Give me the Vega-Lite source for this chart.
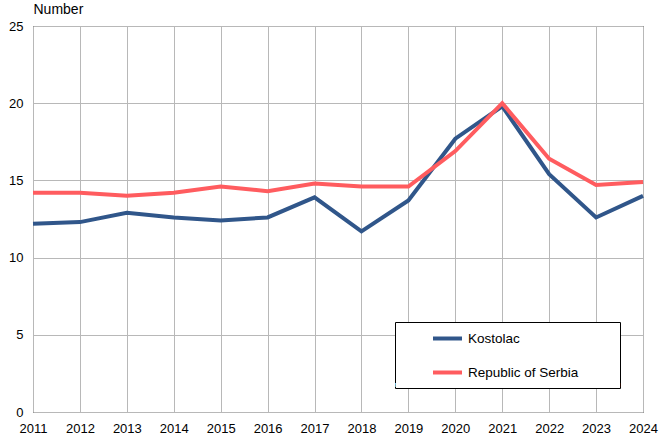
{
  "$schema": "https://vega.github.io/schema/vega-lite/v6.json",
  "width": 610,
  "height": 386,
  "autosize": {"type": "none"},
  "padding": {"left": 33, "top": 26, "right": 16, "bottom": 23},
  "background": "white",
  "config": {
    "font": "Liberation Sans",
    "view": {"stroke": "#000000", "strokeWidth": 1}
  },
  "data": {
    "values": [
      {"year": 2011, "series": "Kostolac", "value": 12.2},
      {"year": 2012, "series": "Kostolac", "value": 12.3},
      {"year": 2013, "series": "Kostolac", "value": 12.9},
      {"year": 2014, "series": "Kostolac", "value": 12.6},
      {"year": 2015, "series": "Kostolac", "value": 12.4},
      {"year": 2016, "series": "Kostolac", "value": 12.6},
      {"year": 2017, "series": "Kostolac", "value": 13.9},
      {"year": 2018, "series": "Kostolac", "value": 11.7},
      {"year": 2019, "series": "Kostolac", "value": 13.7},
      {"year": 2020, "series": "Kostolac", "value": 17.7},
      {"year": 2021, "series": "Kostolac", "value": 19.8},
      {"year": 2022, "series": "Kostolac", "value": 15.4},
      {"year": 2023, "series": "Kostolac", "value": 12.6},
      {"year": 2024, "series": "Kostolac", "value": 14.0},
      {"year": 2011, "series": "Republic of Serbia", "value": 14.2},
      {"year": 2012, "series": "Republic of Serbia", "value": 14.2},
      {"year": 2013, "series": "Republic of Serbia", "value": 14.0},
      {"year": 2014, "series": "Republic of Serbia", "value": 14.2},
      {"year": 2015, "series": "Republic of Serbia", "value": 14.6},
      {"year": 2016, "series": "Republic of Serbia", "value": 14.3},
      {"year": 2017, "series": "Republic of Serbia", "value": 14.8},
      {"year": 2018, "series": "Republic of Serbia", "value": 14.6},
      {"year": 2019, "series": "Republic of Serbia", "value": 14.6},
      {"year": 2020, "series": "Republic of Serbia", "value": 16.9},
      {"year": 2021, "series": "Republic of Serbia", "value": 20.0},
      {"year": 2022, "series": "Republic of Serbia", "value": 16.4},
      {"year": 2023, "series": "Republic of Serbia", "value": 14.7},
      {"year": 2024, "series": "Republic of Serbia", "value": 14.9}
    ]
  },
  "mark": {"type": "line", "strokeWidth": 4, "strokeJoin": "miter", "strokeCap": "butt"},
  "encoding": {
    "x": {
      "field": "year",
      "type": "quantitative",
      "scale": {"domain": [2011, 2024], "nice": false, "zero": false},
      "axis": {
        "values": [2011, 2012, 2013, 2014, 2015, 2016, 2017, 2018, 2019, 2020, 2021, 2022, 2023, 2024],
        "format": "d",
        "title": null,
        "ticks": false,
        "domain": false,
        "labelPadding": 10,
        "labelFontSize": 13,
        "labelColor": "#000000",
        "labelFont": "Liberation Sans",
        "labelFlush": false,
        "labelOverlap": false,
        "grid": true,
        "gridColor": "#b8b8b8",
        "gridOpacity": 1,
        "gridWidth": 1
      }
    },
    "y": {
      "field": "value",
      "type": "quantitative",
      "scale": {"domain": [0, 25], "nice": false},
      "axis": {
        "values": [0, 5, 10, 15, 20, 25],
        "title": "Number",
        "titleAngle": 0,
        "titleAlign": "left",
        "titleBaseline": "bottom",
        "titleX": 0,
        "titleY": -10,
        "titleFontWeight": "normal",
        "titleFontSize": 14,
        "titleColor": "#000000",
        "titleFont": "Liberation Sans",
        "ticks": false,
        "domain": false,
        "labelPadding": 10,
        "labelFontSize": 13,
        "labelColor": "#000000",
        "labelFont": "Liberation Sans",
        "labelFlush": false,
        "grid": true,
        "gridColor": "#b8b8b8",
        "gridOpacity": 1,
        "gridWidth": 1
      }
    },
    "color": {
      "field": "series",
      "type": "nominal",
      "scale": {"domain": ["Kostolac", "Republic of Serbia"], "range": ["#30568a", "#ff5c5f"]},
      "legend": {
        "title": "MMMMMMMMMMMMMMMMMMMMMMMMMMMMMMMMMMMMMMMMMMMMMMMMMMMMMM",
        "titleOrient": "bottom",
        "titleColor": "#ffffff",
        "titleFontSize": 5,
        "titlePadding": 2,
        "titleLimit": 400,
        "titleFont": "Liberation Sans",
        "orient": "none",
        "legendX": 362,
        "legendY": 296,
        "direction": "vertical",
        "fillColor": "#ffffff",
        "strokeColor": "#000000",
        "padding": 0,
        "symbolType": "stroke",
        "symbolSize": 841,
        "symbolStrokeWidth": 4,
        "symbolOffset": 36,
        "labelOffset": 4,
        "labelFontSize": 13.5,
        "labelColor": "#000000",
        "labelFont": "Liberation Sans",
        "rowPadding": 9
      }
    }
  }
}
